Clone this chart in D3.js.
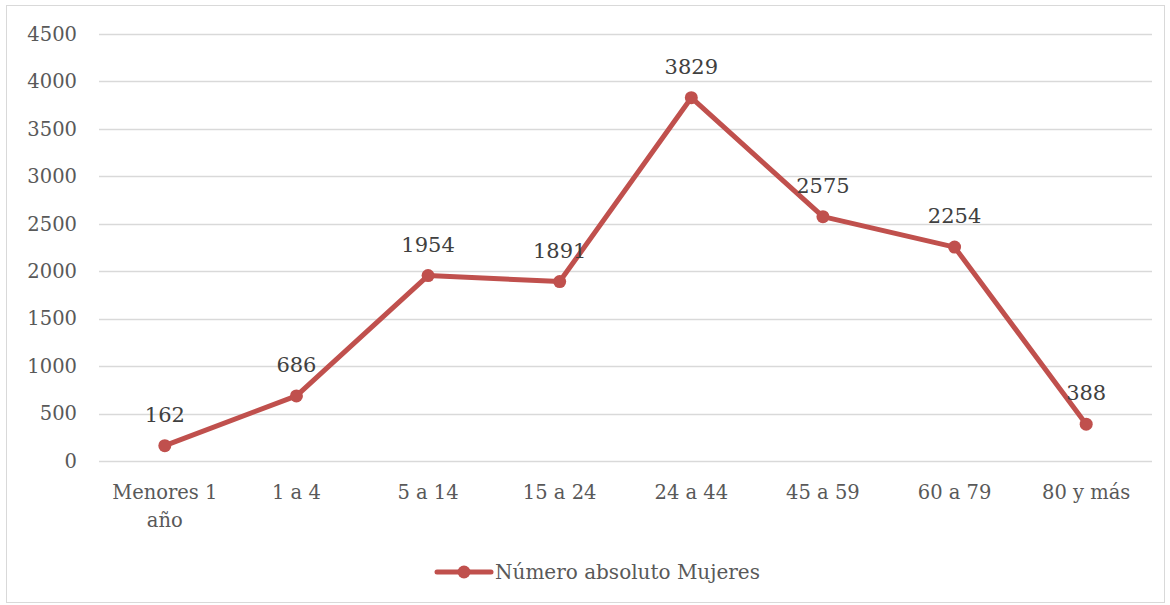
<!DOCTYPE html>
<html>
<head>
<meta charset="utf-8">
<script src="https://cdn.jsdelivr.net/npm/d3@7"></script>
<style>
  html, body { margin: 0; padding: 0; background: #fff; }
  svg { display: block; }
  text { font-family: "DejaVu Serif", "Liberation Serif", serif; }
</style>
</head>
<body>
<svg id="chart" width="1170" height="605"></svg>
<script>
// Age groups and absolute counts of women
const categories = ["Menores 1 año", "1 a 4", "5 a 14", "15 a 24", "24 a 44", "45 a 59", "60 a 79", "80 y más"];
const values = [162, 686, 1954, 1891, 3829, 2575, 2254, 388];
const yTicks = [0, 500, 1000, 1500, 2000, 2500, 3000, 3500, 4000, 4500];
const seriesName = "Número absoluto Mujeres";

const W = 1170, H = 605;
const margin = { left: 99, right: 18, top: 34, bottom: 145 };
const color = "#C0504D";
const textColor = "#595959";
const fs = 19.5;

const svg = d3.select("#chart");

// chart frame
svg.append("rect")
  .attr("x", 6.5).attr("y", 5.5)
  .attr("width", W - 12).attr("height", H - 8)
  .attr("fill", "#fff").attr("stroke", "#d9d9d9").attr("stroke-width", 1);

const x = d3.scaleBand().domain(categories).range([margin.left, W - margin.right]);
const y = d3.scaleLinear().domain([0, 4500]).range([H - margin.bottom + 1, margin.top]);

// horizontal gridlines
svg.append("g").selectAll("line").data(yTicks).join("line")
  .attr("x1", margin.left).attr("x2", W - margin.right)
  .attr("y1", d => Math.round(y(d)) + 0.5).attr("y2", d => Math.round(y(d)) + 0.5)
  .attr("stroke", "#d9d9d9").attr("stroke-width", 1.3);

// y axis labels
const yAxis = d3.axisLeft(y).tickValues(yTicks).tickSize(0).tickPadding(0).tickFormat(d3.format("d"));
const gy = svg.append("g").attr("transform", `translate(${margin.left - 22},0)`).call(yAxis);
gy.select(".domain").remove();
gy.selectAll("text").attr("font-size", fs).attr("fill", textColor)
  .attr("font-family", "DejaVu Serif, serif");

// x axis labels (wrapped to fit the band)
const gx = svg.append("g");
categories.forEach(c => {
  const lines = c === "Menores 1 año" ? ["Menores 1", "año"] : [c];
  const t = gx.append("text")
    .attr("x", x(c) + x.bandwidth() / 2)
    .attr("y", y(0) + 38)
    .attr("text-anchor", "middle")
    .attr("font-size", fs).attr("fill", textColor);
  lines.forEach((l, i) => t.append("tspan")
    .attr("x", x(c) + x.bandwidth() / 2)
    .attr("dy", i === 0 ? 0 : 28).text(l));
});

const cx = d => x(categories[d.i]) + x.bandwidth() / 2;
const pts = values.map((v, i) => ({ v, i }));

// series line
svg.append("path")
  .datum(pts)
  .attr("fill", "none").attr("stroke", color)
  .attr("stroke-width", 5).attr("stroke-linejoin", "round").attr("stroke-linecap", "round")
  .attr("d", d3.line().x(cx).y(d => y(d.v)));

// markers
svg.append("g").selectAll("circle").data(pts).join("circle")
  .attr("cx", cx).attr("cy", d => y(d.v)).attr("r", 6.5).attr("fill", color);

// value labels
svg.append("g").selectAll("text").data(pts).join("text")
  .attr("x", cx).attr("y", d => y(d.v) - 24)
  .attr("text-anchor", "middle")
  .attr("font-size", 21).attr("fill", "#404040")
  .text(d => d.v);

// legend
const lg = svg.append("g").attr("transform", "translate(437,572)");
lg.append("line").attr("x1", 0).attr("x2", 54).attr("y1", 0).attr("y2", 0)
  .attr("stroke", color).attr("stroke-width", 5).attr("stroke-linecap", "round");
lg.append("circle").attr("cx", 27).attr("cy", 0).attr("r", 6.5).attr("fill", color);
lg.append("text").attr("x", 58).attr("y", 7)
  .attr("font-size", 20).attr("fill", textColor).text(seriesName);
</script>
</body>
</html>
